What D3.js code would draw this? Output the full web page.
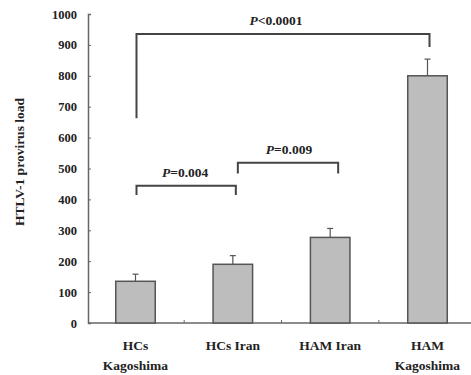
<!DOCTYPE html>
<html><head><meta charset="utf-8">
<script src="https://cdn.jsdelivr.net/npm/d3@7"></script>
<style>
body{margin:0;background:#fff;}
svg text{font-family:"Liberation Serif","Times New Roman",serif;font-weight:bold;}
</style></head>
<body>
<svg id="chart" width="471" height="375"></svg>
<script>
const categories = [["HCs","Kagoshima"],["HCs Iran"],["HAM Iran"],["HAM","Kagoshima"]];
const values = [135, 190, 277, 800];
const errors = [23, 28, 29, 54];
const yTicks = [0,100,200,300,400,500,600,700,800,900,1000];
const yLabel = "HTLV-1 provirus load";
// brackets: from bar, to bar, top level, left drop, right drop, label
const bracketFrom = [0, 1, 0];
const bracketTo = [1, 2, 3];
const bracketLevel = [444, 519, 935];
const bracketLeftEnd = [414, 484, 663];
const bracketRightEnd = [414, 484, 893];
const bracketLabels = ["=0.004", "=0.009", "<0.0001"];

const svg = d3.select("#chart");
const x = d3.scaleBand().domain(d3.range(categories.length)).range([88, 475]).paddingInner(0.594).paddingOuter(0.285);
const y = d3.scaleLinear().domain([0, 1000]).range([323, 14]);
const axisColor = "#666";

// y axis
const yAxis = svg.append("g").attr("transform","translate(88,0)")
  .call(d3.axisLeft(y).tickValues(yTicks).tickSize(-3).tickPadding(11).tickFormat(d3.format("d")));
yAxis.select(".domain").attr("stroke", axisColor).attr("stroke-width",1.5);
yAxis.selectAll(".tick line").attr("stroke", axisColor);
yAxis.selectAll(".tick text").attr("font-size", 12.5).attr("fill","#222");

// x axis
const xAxisG = svg.append("g").attr("transform","translate(0,323)");
xAxisG.append("line").attr("x1",88).attr("x2",471).attr("y1",0).attr("y2",0).attr("stroke",axisColor).attr("stroke-width",1.5);
const step = x.step();
d3.range(1, categories.length).forEach(i=>{
  const bx = x(i) + x.bandwidth()/2 - step/2;
  xAxisG.append("line").attr("x1",bx).attr("x2",bx).attr("y1",0).attr("y2",-3).attr("stroke",axisColor);
});
categories.forEach((lines,i)=>{
  const t = xAxisG.append("text").attr("text-anchor","middle").attr("font-size",13.5).attr("fill","#222")
    .attr("x", x(i)+x.bandwidth()/2).attr("y", 27);
  lines.forEach((l,j)=> t.append("tspan").attr("x", x(i)+x.bandwidth()/2).attr("dy", j===0?0:20).text(l));
});

// bars
svg.append("g").selectAll("rect").data(values).join("rect")
  .attr("x",(d,i)=>x(i)).attr("width",x.bandwidth())
  .attr("y",d=>y(d)).attr("height",d=>y(0)-y(d))
  .attr("fill","#bdbdbd").attr("stroke","#555").attr("stroke-width",1.5);

// error bars
const eg = svg.append("g").attr("stroke","#555").attr("stroke-width",1.2);
values.forEach((v,i)=>{
  const cx = x(i)+x.bandwidth()/2;
  eg.append("line").attr("x1",cx).attr("x2",cx).attr("y1",y(v)).attr("y2",y(v+errors[i]));
  eg.append("line").attr("x1",cx-3).attr("x2",cx+3).attr("y1",y(v+errors[i])).attr("y2",y(v+errors[i]));
});

// brackets
const offL = [1, 5, 1], offR = [3, 8, 2], labelShift = [-1, 1, -7];
const bg = svg.append("g");
bracketFrom.forEach((f,k)=>{
  const x1 = x(f)+x.bandwidth()/2 + offL[k];
  const x2 = x(bracketTo[k])+x.bandwidth()/2 + offR[k];
  bg.append("path").attr("fill","none").attr("stroke","#444").attr("stroke-width",2)
    .attr("d", `M${x1},${y(bracketLeftEnd[k])}V${y(bracketLevel[k])}H${x2}V${y(bracketRightEnd[k])}`);
  const t = bg.append("text").attr("text-anchor","middle").attr("font-size",13.5).attr("fill","#222")
    .attr("x",(x1+x2)/2 + labelShift[k]).attr("y", y(bracketLevel[k]) - 9);
  t.append("tspan").attr("font-style","italic").text("P");
  t.append("tspan").text(bracketLabels[k]);
});

// y label
svg.append("text").attr("transform","translate(24,162) rotate(-90)").attr("text-anchor","middle")
  .attr("font-size",13.5).attr("fill","#222").text(yLabel);
</script>
</body></html>
